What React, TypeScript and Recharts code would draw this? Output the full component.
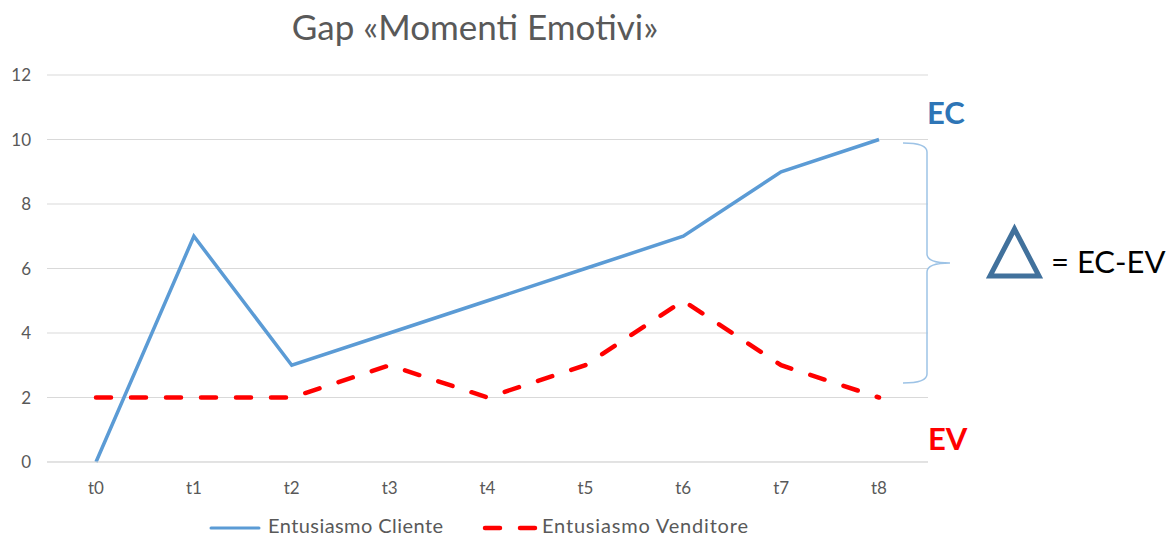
import { CartesianGrid, Line, LineChart, XAxis, YAxis } from "recharts";

const categories = ["t0", "t1", "t2", "t3", "t4", "t5", "t6", "t7", "t8"];
const clienteValues = [0, 7, 3, 4, 5, 6, 7, 9, 10];
const venditoreValues = [2, 2, 2, 3, 2, 3, 5, 3, 2];
const yTicks = [0, 2, 4, 6, 8, 10, 12];

const seriesNames = ["Entusiasmo Cliente", "Entusiasmo Venditore"];
const BLUE = "#5b9bd5";
const RED = "#ff0000";
const FONT = "Lato, 'Open Sans', sans-serif";
const TEXT_GRAY = "#595959";

const data = categories.map((label, i) => ({
  label,
  cliente: clienteValues[i],
  venditore: venditoreValues[i],
}));

// legend, title and the EC / EV brace annotation drawn over the chart
function Overlay() {
  return (
    <svg
      width={1176}
      height={538}
      style={{ position: "absolute", left: 0, top: 0, pointerEvents: "none" }}
    >
      <text x={475} y={40} textAnchor="middle" fontFamily={FONT} fontSize={35} fill={TEXT_GRAY}>
        Gap «Momenti Emotivi»
      </text>

      <line x1={211} y1={528} x2={259} y2={528} stroke={BLUE} strokeWidth={3} strokeLinecap="round" />
      <text x={268} y={533} fontFamily={FONT} fontSize={20} fill={TEXT_GRAY} textLength={175}>
        {seriesNames[0]}
      </text>
      <line
        x1={485}
        y1={528}
        x2={536}
        y2={528}
        stroke={RED}
        strokeWidth={4.5}
        strokeDasharray="15 20"
        strokeLinecap="round"
      />
      <text x={542} y={533} fontFamily={FONT} fontSize={20} fill={TEXT_GRAY} textLength={206}>
        {seriesNames[1]}
      </text>

      <text x={927} y={124} fontFamily={FONT} fontSize={31} fontWeight={700} fill="#2e75b6">
        EC
      </text>
      <text x={928} y={450} fontFamily={FONT} fontSize={31} fontWeight={700} fill={RED}>
        EV
      </text>
      <path
        d="M 903 143 Q 927 143 927 152 L 927 254 Q 927 263 950 263 Q 927 263 927 272 L 927 374 Q 927 383 903 383"
        fill="none"
        stroke="#9dc3e6"
        strokeWidth={1.5}
      />
      <polygon
        points="1014.5,229 990,276 1039,276"
        fill="none"
        stroke="#41719c"
        strokeWidth={5}
      />
      <text x={1051} y={273} fontFamily={FONT} fontSize={31} fill="#000">
        = EC-EV
      </text>
    </svg>
  );
}

export default function App() {
  return (
    <div style={{ position: "absolute", left: 0, top: 0, width: 1176, height: 538, background: "#fff" }}>
      <LineChart
        width={1176}
        height={538}
        data={data}
        margin={{ top: 75, right: 248, bottom: 46, left: 7 }}
      >
        <CartesianGrid vertical={false} stroke="#d9d9d9" strokeWidth={1} />
        <XAxis
          dataKey="label"
          height={30}
          padding={{ left: 49, right: 49 }}
          axisLine={{ stroke: "#d9d9d9" }}
          tickLine={false}
          tickSize={0}
          tickMargin={20}
          tick={{ fill: TEXT_GRAY, fontSize: 17, fontFamily: FONT }}
        />
        <YAxis
          width={40}
          domain={[0, 12]}
          ticks={yTicks}
          axisLine={false}
          tickLine={false}
          tickSize={0}
          tickMargin={16}
          tick={{ fill: TEXT_GRAY, fontSize: 17, fontFamily: FONT }}
        />
        <Line
          type="linear"
          dataKey="cliente"
          name={seriesNames[0]}
          stroke={BLUE}
          strokeWidth={3.5}
          dot={false}
          isAnimationActive={false}
        />
        <Line
          type="linear"
          dataKey="venditore"
          name={seriesNames[1]}
          stroke={RED}
          strokeWidth={4.5}
          strokeDasharray="15 20"
          strokeLinecap="round"
          dot={false}
          isAnimationActive={false}
        />
      </LineChart>
      <Overlay />
    </div>
  );
}
